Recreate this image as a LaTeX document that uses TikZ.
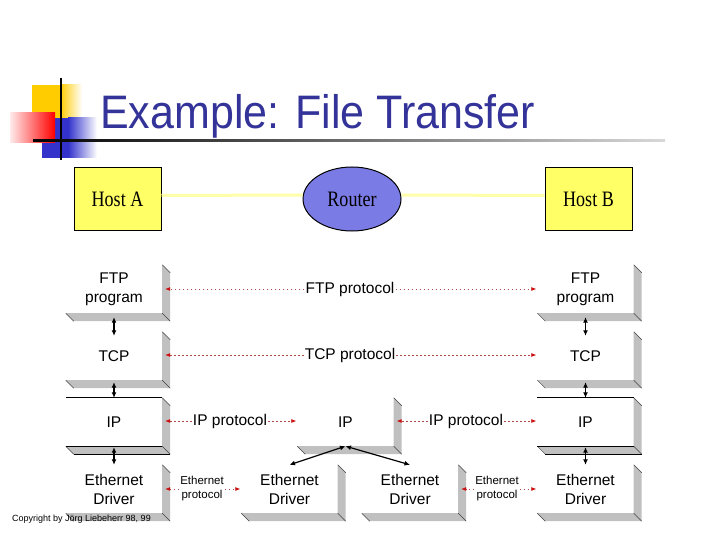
\documentclass[tikz,border=0pt]{standalone}
\usepackage{fontspec}
\setmainfont{Liberation Sans}
\newfontfamily\hostfont{Liberation Serif}
\usepackage{xcolor}
\definecolor{titleBlue}{HTML}{333399}
\definecolor{routerBlue}{HTML}{7B7BE6}
\definecolor{hostYellow}{HTML}{FFFF66}
\definecolor{linkYellow}{HTML}{FFFFAA}
\definecolor{bevelGray}{HTML}{C0C0C0}
\definecolor{protoRed}{HTML}{B04848}
\definecolor{tipRed}{HTML}{CC1010}
\definecolor{decoYellow}{HTML}{FFCC00}
\definecolor{decoBlue}{HTML}{3333CC}
\usetikzlibrary{positioning,arrows.meta,shapes.geometric}

\begin{document}
\begin{tikzpicture}[x=1pt, y=-1pt,
    every node/.style={font=\fontsize{15.5}{19}\selectfont},
    host/.style={draw, line width=1pt, fill=hostYellow, minimum width=87pt, minimum height=63pt,
      font=\hostfont\fontsize{22}{24}\selectfont},
    layer/.style={fill=white, minimum width=96pt, minimum height=48pt, inner sep=0pt, align=center},
    plabel/.style={inner sep=1pt, align=center},
    small/.style={font=\fontsize{11.5}{14}\selectfont},
    proto/.style={draw=protoRed, line width=0.7pt, dash pattern=on 1.5pt off 2.5pt,
      -{Latex[length=5pt, width=4pt, color=tipRed]}},
    stack/.style={line width=1.2pt, {Latex[length=5.5pt, width=5pt]}-{Latex[length=5.5pt, width=5pt]}},
    bevel/.style={draw=black!75, line width=0.5pt}]
  \useasboundingbox (0,0) rectangle (720,540);
  % Title decoration
  \fill[decoYellow] (32,85) rectangle (60,130);
  \shade[left color=decoYellow, right color=white] (60,85) rectangle (82,130);
  \fill[decoBlue] (42,118) rectangle (68,158);
  \shade[left color=decoBlue, right color=white] (68,118) rectangle (97,158);
  \shade[left color=red!8, right color=red] (10,113) rectangle (55,143);
  \draw[line width=2pt] (61,78) -- (61,160);
  \shade[left color=black, right color=black!15] (33,140) rectangle (665,142);
  \node[anchor=base west, text=titleBlue, font=\fontsize{47}{50}\selectfont, inner sep=0pt]
    (title) at (100,129) {\scalebox{0.915}[1]{Example: File Transfer}};
  % Hosts and router
  \node[host] (hostA) at (117.5,199.5) {\scalebox{0.82}[1]{Host A}};
  \node[host] (hostB) at (588.5,199.5) {\scalebox{0.82}[1]{Host B}};
  \node[ellipse, draw, line width=1pt, fill=routerBlue, minimum width=98pt, minimum height=64pt,
    font=\hostfont\fontsize{22}{24}\selectfont] (router) at (352,199) {\scalebox{0.82}[1]{Router}};
  \draw[linkYellow, line width=3pt] ([yshift=4pt]hostA.east) -- ([yshift=4pt]router.west);
  \draw[linkYellow, line width=3pt] ([yshift=4pt]router.east) -- ([yshift=4pt]hostB.west);
  % Protocol stacks
  \node[layer] (ftpA) at (114,289) {FTP\\program};
  \node[layer] (tcpA) at (114,356) {TCP};
  \node[layer] (ipA) at (114,422) {IP};
  \node[layer] (ethA) at (114,489) {Ethernet\\Driver};
  \node[layer] (ftpB) at (585.5,289) {FTP\\program};
  \node[layer] (tcpB) at (585.5,356) {TCP};
  \node[layer] (ipB) at (585.5,422) {IP};
  \node[layer] (ethB) at (585.5,489) {Ethernet\\Driver};
  \node[layer] (ipR) at (345.5,422) {IP};
  \node[layer] (ethR1) at (289.5,489) {Ethernet\\Driver};
  \node[layer] (ethR2) at (410,489) {Ethernet\\Driver};
  \foreach \n in {ftpA,tcpA,ipA,ethA,ftpB,tcpB,ipB,ethB,ipR,ethR1,ethR2} {
    \fill[bevelGray] (\n.north east) -- ([shift={(8,8)}]\n.north east)
      -- ([shift={(8,8)}]\n.south east) -- ([shift={(8,8)}]\n.south west)
      -- (\n.south west) -- (\n.south east) -- cycle;
    \draw[bevel] (\n.north east) -- ++(8,8) (\n.south east) -- ++(8,8) (\n.south west) -- ++(8,8);
  }
  \foreach \n in {ipA,ipB} {
    \draw[line width=0.8pt] (\n.north west) -- (\n.north east);
    \draw[line width=0.8pt] (\n.south west) -- (\n.south east);
    \draw[line width=0.8pt] ([shift={(8,8)}]\n.south west) -- ([shift={(8,8)}]\n.south east);
  }
  % Layer arrows
  \foreach \s in {A,B} {
    \draw[stack] ([yshift=-4pt]ftp\s.south) -- ([yshift=-4pt]tcp\s.north);
    \draw[stack] ([yshift=-2pt]tcp\s.south) -- (ip\s.north);
    \draw[stack] ([yshift=-1pt]ip\s.south) -- (eth\s.north);
  }
  \draw[stack] (ipR.south) -- (ethR1.north);
  \draw[stack] (ipR.south) -- (ethR2.north);
  % Peer protocols
  \node[plabel] (ftpP) at (350,289) {FTP protocol};
  \node[plabel] (tcpP) at (350,355) {TCP protocol};
  \node[plabel] (ipP1) at (230,421) {IP protocol};
  \node[plabel] (ipP2) at (466,421) {IP protocol};
  \node[plabel, small] (ethP1) at (202,489) {Ethernet\\protocol};
  \node[plabel, small] (ethP2) at (497,489) {Ethernet\\protocol};
  \draw[proto] (ftpP) -- ([xshift=3pt]ftpA.east |- ftpP);
  \draw[proto] (ftpP) -- ([xshift=-1pt]ftpB.west |- ftpP);
  \draw[proto] (tcpP) -- ([xshift=3pt]tcpA.east |- tcpP);
  \draw[proto] (tcpP) -- ([xshift=-1pt]tcpB.west |- tcpP);
  \draw[proto] (ipP1) -- ([xshift=3pt]ipA.east |- ipP1);
  \draw[proto] (ipP1) -- ([xshift=-1pt]ipR.west |- ipP1);
  \draw[proto] (ipP2) -- ([xshift=3pt]ipR.east |- ipP2);
  \draw[proto] (ipP2) -- ([xshift=-1pt]ipB.west |- ipP2);
  \draw[proto] (ethP1) -- ([xshift=3pt]ethA.east |- ethP1);
  \draw[proto] (ethP1) -- ([xshift=-1pt]ethR1.west |- ethP1);
  \draw[proto] (ethP2) -- ([xshift=3pt]ethR2.east |- ethP2);
  \draw[proto] (ethP2) -- ([xshift=-1pt]ethB.west |- ethP2);
  % Footer
  \node[anchor=west, inner sep=0pt, font=\fontsize{9}{10}\selectfont] (copy) at (12,519)
    {Copyright by Jörg Liebeherr 98, 99};
\end{tikzpicture}
\end{document}
